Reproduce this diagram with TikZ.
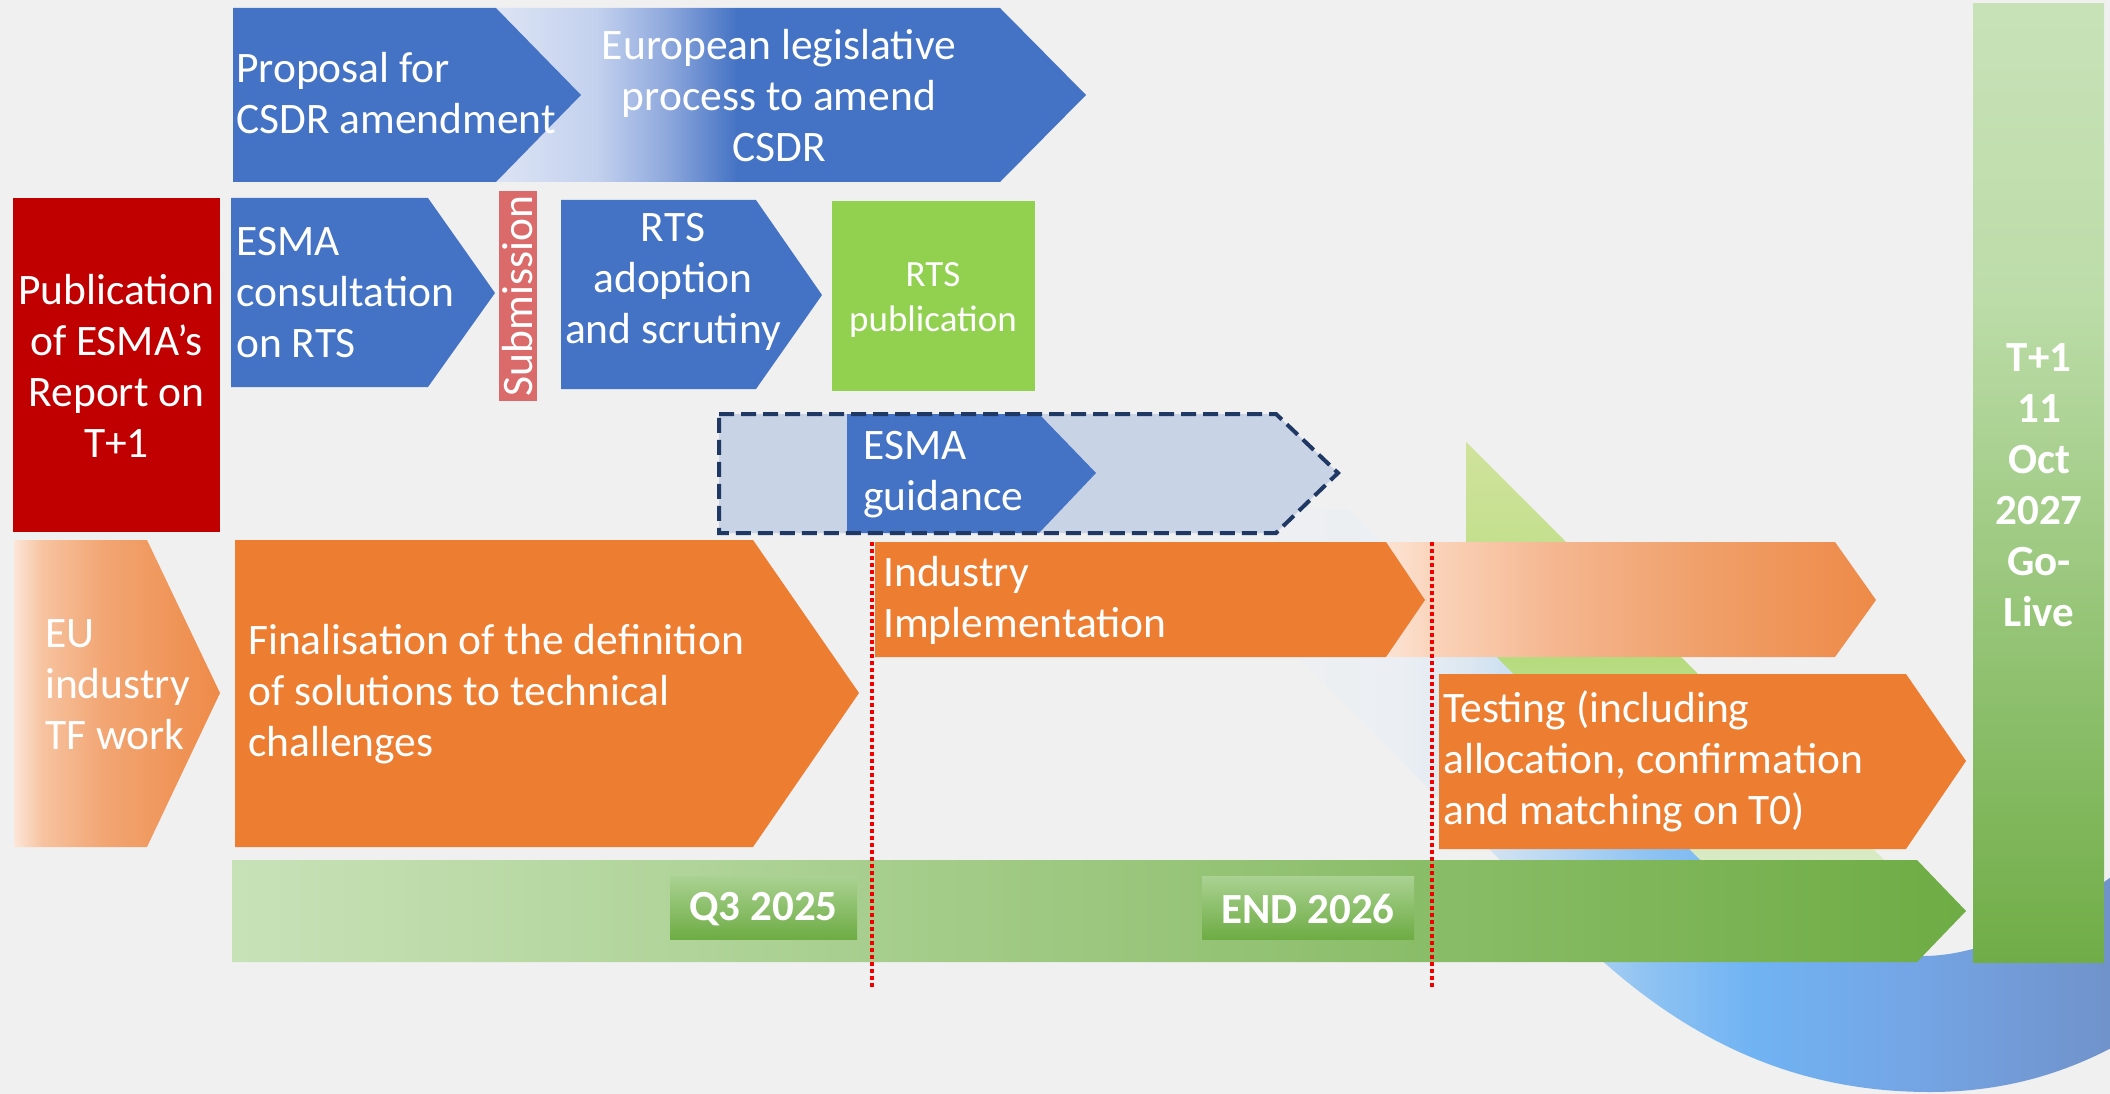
\documentclass[tikz,border=0pt]{standalone}
\usepackage{fontspec}
\setmainfont{Carlito}
\usetikzlibrary{calc}

% base palette
\definecolor{bg}{HTML}{F0F0F0}
\definecolor{ofblue}{HTML}{4472C4}
\definecolor{oforange}{HTML}{ED7D31}
\definecolor{ofred}{HTML}{C00000}
\definecolor{ofgreen}{HTML}{92D050}
\definecolor{subred}{HTML}{DB6B6B}
\definecolor{guidefill}{HTML}{C8D3E6}
\definecolor{navy}{HTML}{1F3864}
\definecolor{dotred}{HTML}{F20000}
% gradient stops
\definecolor{lgA}{HTML}{DCE4F4}
\definecolor{lgB}{HTML}{C3D1EE}
\definecolor{lgC}{HTML}{8EA8DD}
\definecolor{euA}{HTML}{FCE6D8}
\definecolor{euB}{HTML}{F7C3A0}
\definecolor{euC}{HTML}{F2A572}
\definecolor{euD}{HTML}{EE8A48}
\definecolor{imA}{HTML}{FCE3D3}
\definecolor{imB}{HTML}{FAD2B8}
\definecolor{imC}{HTML}{F5B791}
\definecolor{imD}{HTML}{F0A06A}
\definecolor{imE}{HTML}{EE8A48}
\definecolor{gvA}{HTML}{C8E2B8}
\definecolor{gvB}{HTML}{BCDCA8}
\definecolor{gvC}{HTML}{98C67A}
\definecolor{gvD}{HTML}{70AD47}
\definecolor{gbarA}{HTML}{C8E2B8}
\definecolor{gbarB}{HTML}{6EAC44}
\definecolor{labA}{HTML}{AAD292}
\definecolor{labB}{HTML}{6EAC44}
\definecolor{bbA}{HTML}{EBEFF3}
\definecolor{bbB}{HTML}{DCE7F1}
\definecolor{bbC}{HTML}{B8D7F2}
\definecolor{bbD}{HTML}{8DC2F2}
\definecolor{bbE}{HTML}{70B3F3}
\definecolor{bbF}{HTML}{74A6E6}
\definecolor{bbG}{HTML}{7092CA}
\definecolor{gnA}{HTML}{E4EED8}
\definecolor{gnB}{HTML}{D8EAC4}
\definecolor{gnC}{HTML}{B6DB7E}
\definecolor{gnD}{HTML}{D0E39C}

% stops from 25bp to 75bp span the bounding box of the shaded path
\pgfdeclarehorizontalshading{legis}{100bp}{color(0bp)=(lgA); color(25bp)=(lgA); color(33.5bp)=(lgB); color(39.5bp)=(lgC); color(45.5bp)=(ofblue); color(100bp)=(ofblue)}
\pgfdeclarehorizontalshading{eufade}{100bp}{color(0bp)=(euA); color(25bp)=(euA); color(31.8bp)=(euB); color(47bp)=(euC); color(75bp)=(euD); color(100bp)=(euD)}
\pgfdeclarehorizontalshading{implfade}{100bp}{color(0bp)=(imA); color(25bp)=(imA); color(30.5bp)=(imB); color(41.7bp)=(imC); color(57bp)=(imD); color(75bp)=(imE); color(100bp)=(imE)}
\pgfdeclareverticalshading{golive}{100bp}{color(0bp)=(gvD); color(25bp)=(gvD); color(43.9bp)=(gvC); color(59.5bp)=(gvB); color(75bp)=(gvA); color(100bp)=(gvA)}
\pgfdeclarehorizontalshading{blueband}{100bp}{color(0bp)=(bg); color(25bp)=(bg); color(38bp)=(bbA); color(41.5bp)=(bbB); color(46bp)=(bbC); color(51bp)=(bbD); color(56.2bp)=(bbE); color(64bp)=(bbF); color(75bp)=(bbG); color(100bp)=(bbG)}
\pgfdeclareverticalshading{greenband}{100bp}{color(0bp)=(gnA); color(25bp)=(gnA); color(29.9bp)=(gnB); color(51.2bp)=(gnC); color(75bp)=(gnD); color(100bp)=(gnD)}

\newcommand\txtsize[2]{\fontsize{#1}{#2}\selectfont}

\tikzset{
  whitetext/.style={text=white, inner sep=0pt, font=\txtsize{43.5}{51}},
  lefttext/.style={whitetext, anchor=west, align=left},
  midtext/.style={whitetext, anchor=center, align=center},
  boldtext/.style={whitetext, anchor=center, align=center, font=\txtsize{43}{51}\bfseries},
  guideline/.style={draw=navy, line width=4pt, dash pattern=on 15pt off 7pt},
  marker/.style={draw=dotred, line width=4pt, dash pattern=on 4pt off 3pt},
}

\begin{document}
\begin{tikzpicture}[x=1pt,y=-1pt]
\fill[bg] (0,0) rectangle (2110,1094);
\useasboundingbox (0,0) rectangle (2110,1094);

% decorative bands behind the timeline
\shade[shading=greenband] (1466,442) -- (1466,627) -- (1739,900) -- (1924,900) -- cycle;
\shade[shading=blueband] (1150,510) -- (1560,920)
  .. controls (1680,1045) and (1800,1092) .. (1930,1092)
  .. controls (2010,1092) and (2070,1070) .. (2115,1046)
  -- (2115,874)
  .. controls (2060,915) and (1990,955) .. (1925,956)
  .. controls (1840,957) and (1760,920) .. (1690,850)
  -- (1348,509) -- cycle;

% legislative track
\shade[shading=legis] (496,8) -- (1000,8) -- (1086,95) -- (1000,182) -- (496,182) -- (581,95) -- cycle;
\fill[ofblue] (233,8) -- (496,8) -- (581,95) -- (496,182) -- (233,182) -- cycle;
\node[lefttext] (proposal) at (236,93) {Proposal for\\CSDR amendment};
\node[midtext] (legis) at (779,96) {European legislative\\process to amend\\CSDR};

% ESMA report
\fill[ofred] (13,198) rectangle (220,532);
\node[midtext] (report) at (116.5,366) {Publication\\of ESMA’s\\Report on\\T+1};

% RTS track
\fill[ofblue] (231,198) -- (428,198) -- (495,293) -- (428,387) -- (231,387) -- cycle;
\node[lefttext] (consult) at (236,293) {ESMA\\consultation\\on RTS};
\fill[subred] (499,191) rectangle (537,401);
\node[whitetext, rotate=90] (submit) at (518,296) {Submission};
\fill[ofblue] (561,200) -- (756,200) -- (822,295) -- (756,389) -- (561,389) -- cycle;
\node[midtext] (adopt) at (673,282) {RTS\\adoption\\and scrutiny};
\fill[ofgreen] (832,201) rectangle (1035,391);
\node[midtext, font=\txtsize{37}{45}] (rtspub) at (933,300) {RTS\\publication};

% guidance
\fill[guidefill] (719,414) -- (1276,414) -- (1338,473) -- (1276,533) -- (719,533) -- cycle;
\fill[ofblue] (847,414) -- (1039,414) -- (1096,473) -- (1039,533) -- (847,533) -- cycle;
\draw[guideline] (719,414) -- (1276,414) -- (1338,473) -- (1276,533) -- (719,533) -- cycle;
\node[lefttext] (guide) at (863,475) {ESMA\\guidance};

% industry track
\shade[shading=eufade] (14,540) -- (147,540) -- (220,693) -- (147,847) -- (14,847) -- cycle;
\node[lefttext] (tf) at (45,685) {EU\\industry\\TF work};
\fill[oforange] (235,540) -- (753,540) -- (859,693) -- (753,847) -- (235,847) -- cycle;
\node[lefttext] (final) at (248,694) {Finalisation of the definition\\of solutions to technical\\challenges};
\shade[shading=implfade] (1386,542) -- (1835,542) -- (1876,600) -- (1835,657) -- (1386,657) -- (1425,600) -- cycle;
\fill[oforange] (875,542) -- (1386,542) -- (1425,600) -- (1386,657) -- (875,657) -- cycle;
\node[lefttext] (impl) at (883,600) {Industry\\Implementation};
\fill[oforange] (1439,674) -- (1906,674) -- (1966,761) -- (1906,849) -- (1439,849) -- cycle;
\node[lefttext] (test) at (1443,761) {Testing (including\\allocation, confirmation\\and matching on T0)};

% time axis
\shade[left color=gbarA, right color=gbarB] (232,860) -- (1917,860) -- (1966,911) -- (1917,962) -- (232,962) -- cycle;
\shade[top color=labA, bottom color=labB] (670,876) rectangle (857,939);
\node[boldtext] (q3) at (763.5,909) {Q3 2025};
\shade[top color=labA, bottom color=labB] (1202,876) rectangle (1414,939);
\node[boldtext] (end26) at (1308,909) {END 2026};

% go-live column
\shade[shading=golive] (1973,4) rectangle (2104,962);
\node[boldtext] (golive) at (2039,485) {T+1\\11\\Oct\\2027\\Go-\\Live};

% milestone markers
\coordinate (m1top) at (872,542);
\coordinate (m1bot) at (872,989);
\coordinate (m2top) at (1432,542);
\coordinate (m2bot) at (1432,989);
\draw[marker] (m1top) -- (m1bot);
\draw[marker] (m2top) -- (m2bot);
\end{tikzpicture}
\end{document}
